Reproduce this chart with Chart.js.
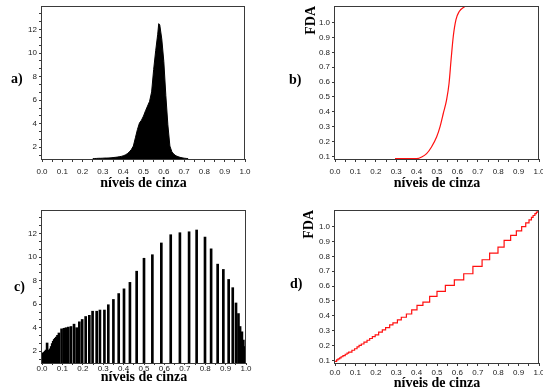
<!DOCTYPE html>
<html lang="pt">
<head>
    <meta charset="UTF-8">
    <title>Histogramas e FDA</title>
    <style>
        body {
            margin: 0;
            background: #fff;
        }

        #wrap {
            position: relative;
            width: 543px;
            height: 392px;
            overflow: hidden;
        }

        canvas {
            position: absolute;
        }

        .tag {
            position: absolute;
            font: bold 14px "Liberation Serif", "Times New Roman", serif;
            line-height: 16px;
            color: #000;
        }
    </style>
</head>
<body>
    <div id="wrap">
        <canvas id="chartA" width="270" height="192" style="left:0;top:0"></canvas>
        <canvas id="chartB" width="263" height="192" style="left:280px;top:0"></canvas>
        <canvas id="chartC" width="270" height="182" style="left:0;top:204px"></canvas>
        <canvas id="chartD" width="263" height="188" style="left:280px;top:204px"></canvas>

        <div class="tag" style="left:11px;top:71px">a)</div>
        <div class="tag" style="left:289px;top:72px">b)</div>
        <div class="tag" style="left:14px;top:279px">c)</div>
        <div class="tag" style="left:290px;top:276px">d)</div>
    </div>

    <script src="https://cdn.jsdelivr.net/npm/chart.js"></script>
    <script>
        // a) histogram of the original image
        const aX = [0.25, 0.26, 0.27, 0.28, 0.29, 0.30, 0.31, 0.32, 0.33, 0.34, 0.35, 0.36, 0.37, 0.38, 0.39, 0.40,
                    0.41, 0.42, 0.43, 0.44, 0.45, 0.46, 0.47, 0.48, 0.49, 0.50, 0.51, 0.52, 0.53, 0.54, 0.55, 0.56,
                    0.57, 0.575, 0.58, 0.59, 0.60, 0.61, 0.62, 0.63, 0.64, 0.65, 0.66, 0.67, 0.68, 0.69, 0.70, 0.71, 0.72];
        const aY = [1.03, 1.04, 1.05, 1.06, 1.06, 1.07, 1.08, 1.08, 1.09, 1.10, 1.12, 1.14, 1.16, 1.19, 1.22, 1.27,
                    1.34, 1.45, 1.6, 1.8, 2.1, 2.8, 3.5, 4.05, 4.3, 4.65, 5.1, 5.5, 5.9, 6.7, 8.6, 10.2,
                    11.6, 12.5, 12.4, 11.2, 9.3, 6.4, 3.9, 2.1, 1.6, 1.4, 1.27, 1.2, 1.14, 1.1, 1.07, 1.05, 1.03];

        // b) cumulative distribution of a)
        const bX = [0.294, 0.40, 0.425, 0.449, 0.473, 0.498, 0.515, 0.531, 0.547, 0.559, 0.569, 0.580, 0.593, 0.609, 0.637];
        const bF = [0.084, 0.084, 0.095, 0.118, 0.163, 0.23, 0.30, 0.39, 0.48, 0.59, 0.75, 0.91, 1.02, 1.075, 1.11];

        // c) equalized histogram (bars)
        const cX = [0, 0.005, 0.01, 0.015, 0.02, 0.025, 0.03, 0.035, 0.04, 0.045, 0.05, 0.055, 0.06, 0.065, 0.07,
                    0.076, 0.083, 0.096, 0.108, 0.118, 0.129, 0.142, 0.157, 0.17, 0.183, 0.197, 0.214, 0.232, 0.248,
                    0.268, 0.284, 0.306, 0.325, 0.35, 0.376, 0.402, 0.431, 0.464, 0.5, 0.541, 0.585, 0.631, 0.676,
                    0.721, 0.758, 0.799, 0.829, 0.861, 0.889, 0.915, 0.935, 0.951, 0.963, 0.971, 0.98, 0.987, 0.995];
        const cH = [1.8, 1.85, 1.9, 2.0, 2.1, 2.7, 2.05, 2.1, 2.2, 2.4, 2.65, 2.85, 3.0, 3.1, 3.2,
                    3.35, 3.55, 3.9, 3.95, 4.0, 4.05, 4.1, 4.3, 4.0, 4.5, 4.7, 4.95, 5.05, 5.4,
                    5.4, 5.5, 5.5, 5.95, 6.4, 6.9, 7.3, 7.85, 8.8, 9.9, 10.2, 11.2, 11.9, 12.07,
                    12.15, 12.3, 11.7, 10.7, 9.4, 8.95, 8.1, 7.4, 6.1, 5.2, 4.1, 3.65, 2.95, 2.4];

        // d) cumulative distribution of c) (steps)
        const dX = [0, 0.008, 0.015, 0.023, 0.03, 0.039, 0.05, 0.059, 0.067, 0.083, 0.096, 0.108, 0.118, 0.129,
                    0.142, 0.157, 0.17, 0.183, 0.197, 0.214, 0.232, 0.248, 0.268, 0.284, 0.306, 0.325, 0.35, 0.376,
                    0.402, 0.431, 0.464, 0.5, 0.541, 0.585, 0.631, 0.676, 0.721, 0.758, 0.799, 0.829, 0.861, 0.889,
                    0.915, 0.935, 0.951, 0.963, 0.971, 0.98, 0.987, 0.995, 1.0];
        const dF = [0.093, 0.103, 0.11, 0.117, 0.124, 0.132, 0.141, 0.148, 0.155, 0.168, 0.178, 0.19, 0.2, 0.21,
                    0.222, 0.235, 0.247, 0.26, 0.272, 0.29, 0.305, 0.32, 0.338, 0.352, 0.372, 0.39, 0.412, 0.44,
                    0.47, 0.492, 0.53, 0.564, 0.604, 0.642, 0.683, 0.732, 0.777, 0.822, 0.862, 0.907, 0.941, 0.972,
                    1.0, 1.025, 1.045, 1.063, 1.075, 1.087, 1.098, 1.106, 1.112];

        // ticks
        const xTicks = [0, 0.05, 0.1, 0.15, 0.2, 0.25, 0.3, 0.35, 0.4, 0.45, 0.5, 0.55, 0.6, 0.65, 0.7, 0.75, 0.8, 0.85, 0.9, 0.95, 1.0];
        const histLabels = [2, 4, 6, 8, 10, 12];
        const fdaLabels = [0.1, 0.2, 0.3, 0.4, 0.5, 0.6, 0.7, 0.8, 0.9, 1.0];

        const histTicks = [];
        for (let k = 2; k <= 20; k++) histTicks.push((k * 2) / 3);

        const axisColor = '#3a3a3a';
        const tickFont = { family: '"Liberation Sans", Arial, sans-serif', size: 8 };
        const titleFont = { family: '"Liberation Serif", "Times New Roman", serif', size: 14, weight: 'bold' };

        Chart.defaults.animation = false;
        Chart.defaults.plugins.legend.display = false;
        Chart.defaults.plugins.tooltip.enabled = false;

        const framePlugin = {
            id: 'frame',
            afterDraw(chart) {
                const { ctx, chartArea: a } = chart;
                ctx.save();
                ctx.strokeStyle = axisColor;
                ctx.lineWidth = 1;
                ctx.strokeRect(Math.round(a.left) - 0.5, Math.round(a.top) + 0.5,
                               Math.round(a.right - a.left), Math.round(a.bottom - a.top));
                ctx.restore();
            }
        };

        function pairs(xs, ys) {
            return xs.map((x, i) => ({ x: x, y: ys[i] }));
        }

        function xAxis(tickLen, pad, height) {
            return {
                type: 'linear',
                min: 0,
                max: 1,
                offset: false,
                border: { display: false },
                grid: { drawOnChartArea: false, tickLength: tickLen, color: axisColor, offset: false },
                afterBuildTicks: s => { s.ticks = xTicks.map(v => ({ value: v })); },
                ticks: {
                    padding: pad,
                    maxRotation: 0,
                    minRotation: 0,
                    autoSkip: false,
                    font: tickFont,
                    color: '#222',
                    callback: v => Math.abs(v * 10 - Math.round(v * 10)) < 1e-6 ? v.toFixed(1) : ''
                },
                title: { display: true, text: 'níveis de cinza', font: titleFont, color: '#000', padding: { top: 0, bottom: 0 } },
                afterFit: s => { s.height = height; s.paddingLeft = 0; s.paddingRight = 0; }
            };
        }

        function histAxis() {
            return {
                min: 1,
                max: 14,
                border: { display: false },
                grid: { drawOnChartArea: false, tickLength: 3, color: axisColor },
                afterBuildTicks: s => { s.ticks = histTicks.map(v => ({ value: v })); },
                ticks: {
                    padding: 2,
                    autoSkip: false,
                    font: tickFont,
                    color: '#222',
                    callback: v => histLabels.includes(v) ? String(v) : ''
                },
                afterFit: s => { s.width = 42; s.paddingTop = 0; s.paddingBottom = 0; }
            };
        }

        function fdaAxis(titlePad) {
            return {
                min: 0.082,
                max: 1.112,
                border: { display: false },
                grid: { drawOnChartArea: false, tickLength: 3, color: axisColor },
                afterBuildTicks: s => { s.ticks = fdaLabels.map(v => ({ value: v })); },
                ticks: { padding: 2, autoSkip: false, font: tickFont, color: '#222', callback: v => v.toFixed(1) },
                title: { display: true, text: 'FDA', align: 'end', font: titleFont, color: '#000', padding: { top: titlePad, bottom: 0 } },
                afterFit: s => { s.width = 55; s.paddingTop = 0; s.paddingBottom = 0; }
            };
        }

        new Chart(document.getElementById('chartA'), {
            type: 'line',
            data: {
                datasets: [{
                    data: pairs(aX, aY),
                    borderColor: '#000',
                    backgroundColor: '#000',
                    borderWidth: 1,
                    pointRadius: 0,
                    fill: 'start'
                }]
            },
            options: {
                responsive: false,
                layout: { padding: { left: 0, top: 6, right: 25, bottom: 0 } },
                scales: { x: xAxis(3, 5, 33), y: histAxis() }
            },
            plugins: [framePlugin]
        });

        new Chart(document.getElementById('chartB'), {
            type: 'line',
            data: {
                datasets: [{
                    data: pairs(bX, bF),
                    borderColor: '#ff1010',
                    borderWidth: 1.2,
                    pointRadius: 0,
                    cubicInterpolationMode: 'monotone',
                    fill: false
                }]
            },
            options: {
                responsive: false,
                layout: { padding: { left: 0, top: 6, right: 4, bottom: 0 } },
                scales: { x: xAxis(3, 5, 33), y: fdaAxis(23) }
            },
            plugins: [framePlugin]
        });

        new Chart(document.getElementById('chartC'), {
            type: 'bar',
            data: {
                datasets: [{
                    data: pairs(cX, cH),
                    backgroundColor: '#000',
                    barThickness: 2
                }]
            },
            options: {
                responsive: false,
                layout: { padding: { left: 0, top: 6, right: 24, bottom: 0 } },
                scales: { x: xAxis(2, -1, 23), y: histAxis() }
            },
            plugins: [framePlugin]
        });

        new Chart(document.getElementById('chartD'), {
            type: 'line',
            data: {
                datasets: [{
                    data: pairs(dX, dF),
                    borderColor: '#ff1010',
                    borderWidth: 1.2,
                    pointRadius: 0,
                    stepped: 'before',
                    fill: false
                }]
            },
            options: {
                responsive: false,
                layout: { padding: { left: 0, top: 6, right: 4, bottom: 0 } },
                scales: { x: xAxis(3, 2, 29), y: fdaAxis(21) }
            },
            plugins: [framePlugin]
        });
    </script>
</body>
</html>
